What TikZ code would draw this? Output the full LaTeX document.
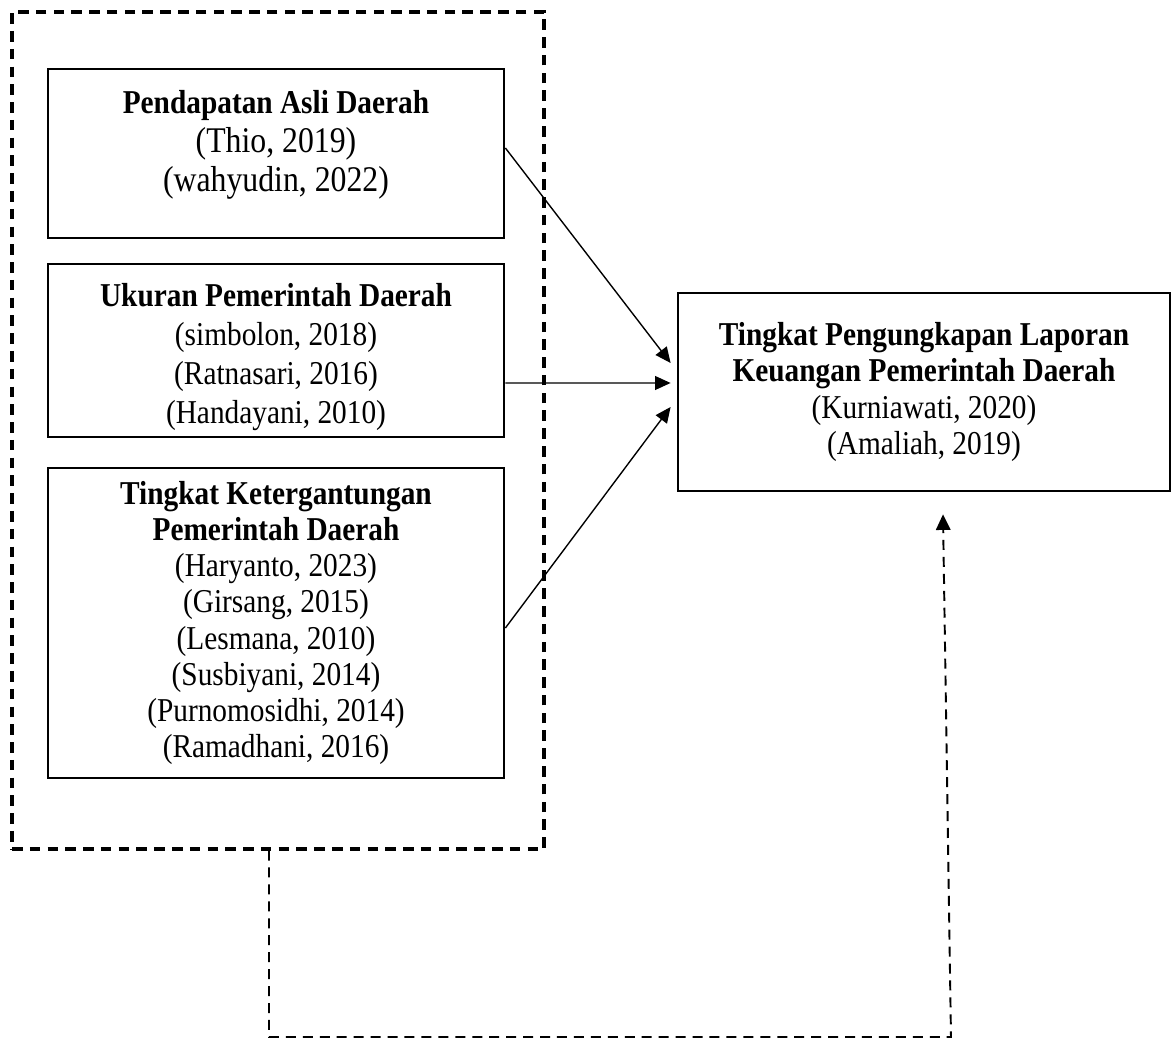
\documentclass[tikz,border=0pt]{standalone}
\usepackage{fontspec}
\setmainfont[FakeStretch=0.88]{Liberation Serif}
\usepackage{tikz}
\usetikzlibrary{shapes,arrows.meta,calc}
\newcommand{\pxu}{0.36pt}
\newcommand{\bigref}[1]{{\fontsize{13}{14}\selectfont #1}}

\begin{document}
\begin{tikzpicture}[x=0.36pt,y=-0.36pt,
  varbox/.style={draw,line width=1pt,align=center,inner sep=0pt,
    font=\fontsize{12}{13}\selectfont,minimum width=456*\pxu},
  grpbox/.style={draw,line width=1.1pt,dash pattern=on 3.8pt off 2.6pt,inner sep=0pt},
  arrow/.style={line width=0.5pt,-{Triangle[length=5.6pt,width=5pt]}},
  link/.style={line width=0.7pt,dash pattern=on 3.6pt off 2.5pt,-{Triangle[length=5.6pt,width=5.2pt]}}]
\useasboundingbox (0,0) rectangle (1171,1039);

\node[grpbox,minimum width=532*\pxu,minimum height=837*\pxu] (grp) at (278,430.5) {};

\node[varbox,font=\fontsize{12}{14}\selectfont,minimum height=169*\pxu] (pad) at (276,153.5)
  {\textbf{Pendapatan Asli Daerah}\\\bigref{(Thio, 2019)}\\\bigref{(wahyudin, 2022)}\\[-5pt]\mbox{}};
\node[varbox,font=\fontsize{12}{14}\selectfont,minimum height=173*\pxu] (upd) at (276,350.5)
  {\mbox{}\\[-1pt]\textbf{Ukuran Pemerintah Daerah}\\(simbolon, 2018)\\(Ratnasari, 2016)\\(Handayani, 2010)};
\node[varbox,minimum height=310*\pxu] (tkpd) at (276,623)
  {\textbf{Tingkat Ketergantungan}\\\textbf{Pemerintah Daerah}\\(Haryanto, 2023)\\(Girsang, 2015)\\(Lesmana, 2010)\\(Susbiyani, 2014)\\(Purnomosidhi, 2014)\\(Ramadhani, 2016)};

\node[varbox,minimum width=492*\pxu,minimum height=198*\pxu] (tpl) at (924,392)
  {\textbf{Tingkat Pengungkapan Laporan}\\\textbf{Keuangan Pemerintah Daerah}\\(Kurniawati, 2020)\\(Amaliah, 2019)};

\draw[arrow] ($(pad.east)+(0,-5.5)$) -- ($(tpl.west)+(-6,-29)$);
\draw[arrow] ($(upd.east)+(0,32.5)$) -- ($(tpl.west)+(-6,-9)$);
\draw[arrow] ($(tkpd.east)+(0,5)$) -- ($(tpl.west)+(-6,15)$);

\coordinate (c1) at (269,1037);
\coordinate (c2) at (951,1037);
\draw[link] (c1 |- grp.south) -- (c1) -- (c2) -- ($(tpl.south)+(19,22)$);

\end{tikzpicture}
\end{document}
